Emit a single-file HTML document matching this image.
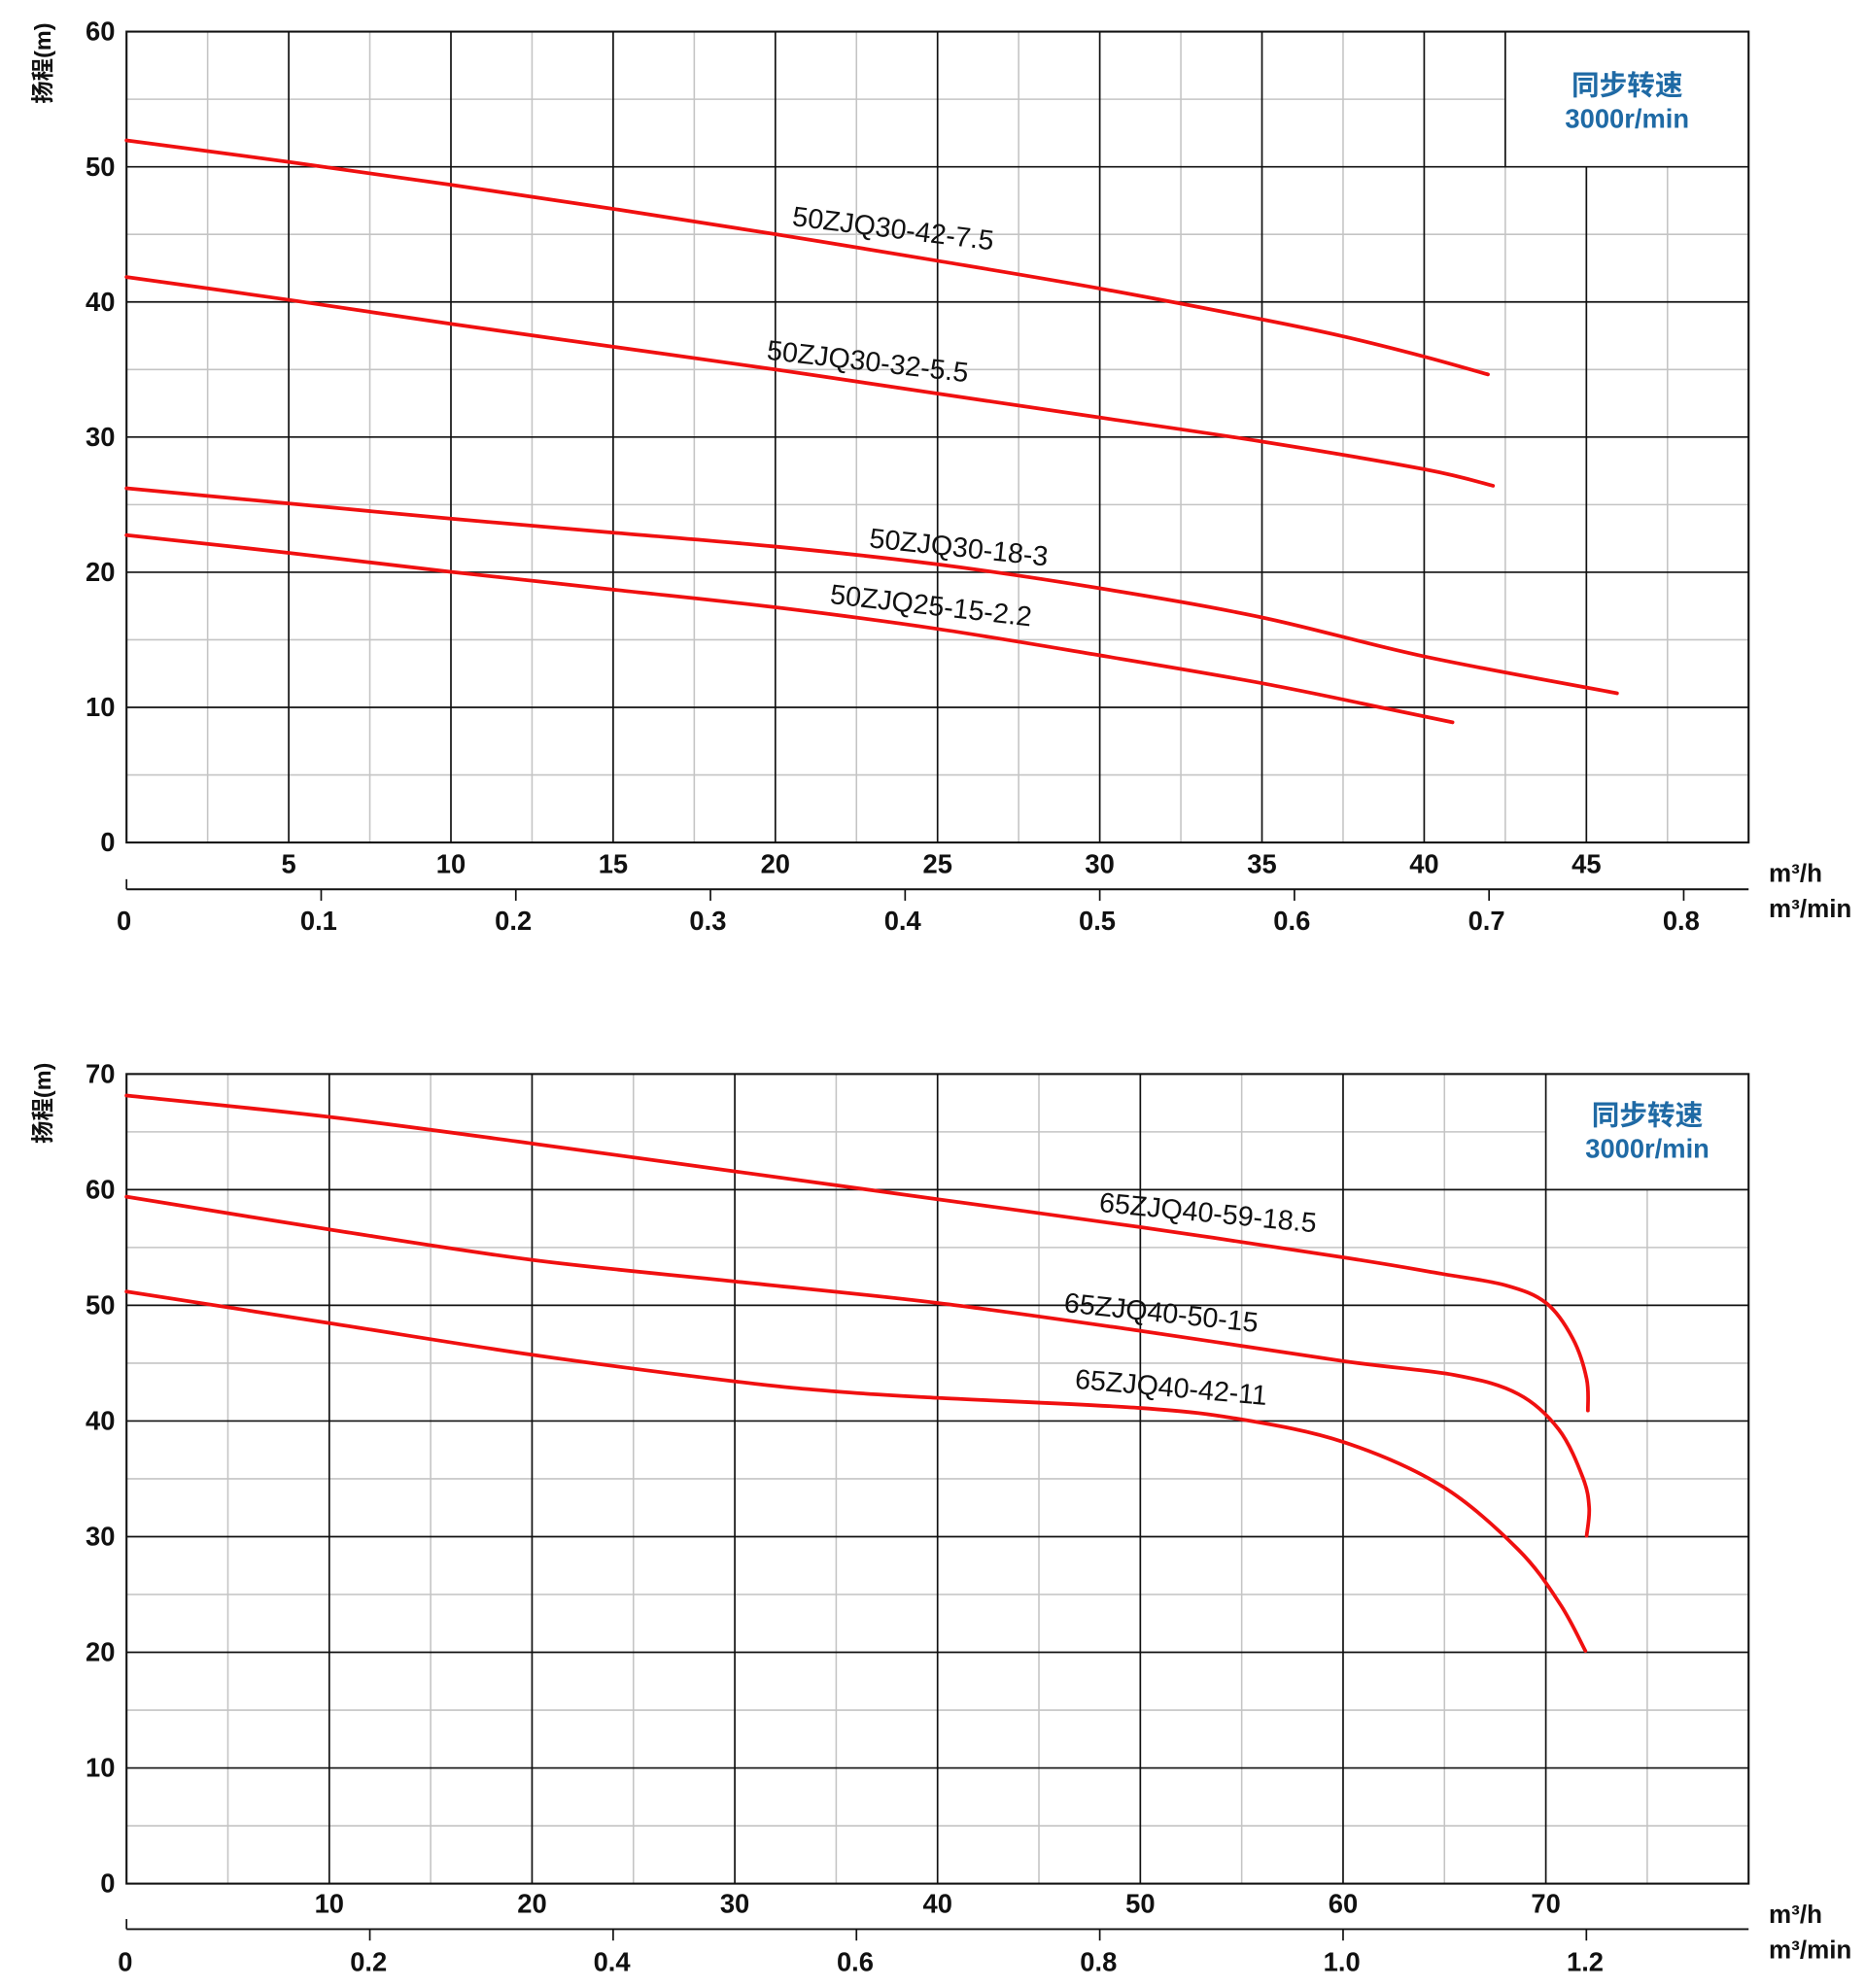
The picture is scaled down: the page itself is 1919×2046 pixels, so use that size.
<!DOCTYPE html>
<html><head><meta charset="utf-8">
<style>
html,body{margin:0;padding:0;background:#fff;}
svg{display:block;}
text{font-family:"Liberation Sans","Noto Sans CJK SC",sans-serif;}
</style></head>
<body>
<svg id="s" xmlns="http://www.w3.org/2000/svg" width="1919" height="2046" viewBox="0 0 1474 1571.5" preserveAspectRatio="none">
<rect width="1474" height="1571.5" fill="#fff"/>
<g id="g"></g>
</svg>
<script>
var out='';
function L(x1,y1,x2,y2,c,w){out+='<line x1="'+x1+'" y1="'+y1+'" x2="'+x2+'" y2="'+y2+'" stroke="'+c+'" stroke-width="'+w+'"/>';}
function T(x,y,t,o){o=o||{};out+='<text x="'+x+'" y="'+y+'" font-size="'+(o.s||20)+'" text-anchor="'+(o.a||'middle')+'" fill="'+(o.c||'#111')+'"'+(o.b?' font-weight="bold"':'')+(o.r!==undefined?' transform="rotate('+o.r+' '+x+' '+y+')"':'')+'>'+t+'</text>';}
function P(pts){var d='M'+pts[0][0]+','+pts[0][1];
 for(var i=0;i<pts.length-1;i++){var p0=pts[Math.max(i-1,0)],p1=pts[i],p2=pts[i+1],p3=pts[Math.min(i+2,pts.length-1)];
 d+=' C'+(p1[0]+(p2[0]-p0[0])/6)+','+(p1[1]+(p2[1]-p0[1])/6)+' '+(p2[0]-(p3[0]-p1[0])/6)+','+(p2[1]-(p3[1]-p1[1])/6)+' '+p2[0]+','+p2[1];}
 out+='<path d="'+d+'" fill="none" stroke="#f01010" stroke-width="2.9" stroke-linecap="round"/>';}
var G='#c4c4c4',K='#111';
(function(){
 var x0=100,x1=1382,y0=25,y1=666,dx=25.64,dy=10.683;
 for(var v=5;v<60;v+=10){var y=y1-v*dy;L(x0,y,v>50?1190:x1,y,G,1.2);}
 for(var q=2.5;q<50;q+=5){var x=x0+q*dx;
   if(q==42.5){L(x,y0,x,132,K,1.3);L(x,132,x,y1,G,1.2);} else if(q==47.5){L(x,132,x,y1,G,1.2);} else L(x,y0,x,y1,G,1.2);}
 for(var v=10;v<60;v+=10){var y=y1-v*dy;L(x0,y,x1,y,K,1.3);}
 for(var q=5;q<50;q+=5){var x=x0+q*dx; if(q==45)L(x,132,x,y1,K,1.3); else L(x,y0,x,y1,K,1.3);}
 out+='<rect x="'+x0+'" y="'+y0+'" width="'+(x1-x0)+'" height="'+(y1-y0)+'" fill="none" stroke="'+K+'" stroke-width="1.6"/>';
 for(var v=0;v<=60;v+=10)T(91,y1-v*dy+7,v,{a:'end',s:21,b:true});
 for(var q=5;q<=45;q+=5)T(x0+q*dx,690,q,{s:21,b:true});
 L(x0,703,x1,703,K,1.5);L(x0,695,x0,703,K,1.3);
 var m=['0','0.1','0.2','0.3','0.4','0.5','0.6','0.7','0.8'];
 for(var i=1;i<m.length;i++){var x=x0+i*6*dx;L(x,703,x,712,K,1.3);}
 for(var i=0;i<m.length;i++)T(x0-2+i*6*dx,735,m[i],{s:21,b:true});
 T(1398,697,'m³/h',{a:'start',s:20,b:true});T(1398,725,'m³/min',{a:'start',s:20,b:true});
 T(40,50,'扬程(m)',{s:18,r:-90,b:true});
 T(1286,75,'同步转速',{s:22,c:'#1f6aa5',b:true});T(1286,101,'3000r/min',{s:21,c:'#1f6aa5',b:true});
 P([[100,111],[228,128],[356,146],[484,165],[612,185],[740,206],[869,228],[1000,253],[1062,266],[1126,282],[1176,296]]);
 P([[100,219],[228,237],[356,256],[484,274],[612,292],[740,311],[869,330],[997,349],[1126,371],[1180,384]]);
 P([[100,386],[228,398],[356,410],[484,421],[612,432],[740,446],[869,465],[997,488],[1126,519],[1278,548]]);
 P([[100,423],[228,437],[356,452],[484,466],[612,480],[740,497],[869,518],[997,540],[1100,561],[1148,571]]);
 T(705,188,'50ZJQ30-42-7.5',{s:22,r:7});
 T(685,293,'50ZJQ30-32-5.5',{s:22,r:6.5});
 T(757,440,'50ZJQ30-18-3',{s:22,r:6});
 T(735,486,'50ZJQ25-15-2.2',{s:22,r:6.5});
})();
(function(){
 var x0=100,x1=1382,y0=849,y1=1489,dx=16.025,dy=9.143;
 for(var v=5;v<70;v+=10){var y=y1-v*dy;L(x0,y,v>60?1222:x1,y,G,1.2);}
 for(var q=5;q<80;q+=10){var x=x0+q*dx; if(q==75)L(x,940,x,y1,G,1.2); else L(x,y0,x,y1,G,1.2);}
 for(var v=10;v<70;v+=10){var y=y1-v*dy;L(x0,y,x1,y,K,1.3);}
 for(var q=10;q<80;q+=10){var x=x0+q*dx;L(x,y0,x,y1,K,1.3);}
 out+='<rect x="'+x0+'" y="'+y0+'" width="'+(x1-x0)+'" height="'+(y1-y0)+'" fill="none" stroke="'+K+'" stroke-width="1.6"/>';
 for(var v=0;v<=70;v+=10)T(91,y1-v*dy+7,v,{a:'end',s:21,b:true});
 for(var q=10;q<=70;q+=10)T(x0+q*dx,1512,q,{s:21,b:true});
 L(x0,1525,x1,1525,K,1.5);L(x0,1517,x0,1525,K,1.3);
 var m=['0','0.2','0.4','0.6','0.8','1.0','1.2'];
 for(var i=1;i<m.length;i++){var x=x0+i*12*dx;L(x,1525,x,1534,K,1.3);}
 for(var i=0;i<m.length;i++)T(x0-1+i*12*dx,1558,m[i],{s:21,b:true});
 T(1398,1520,'m³/h',{a:'start',s:20,b:true});T(1398,1548,'m³/min',{a:'start',s:20,b:true});
 T(40,872,'扬程(m)',{s:18,r:-90,b:true});
 T(1302,889,'同步转速',{s:22,c:'#1f6aa5',b:true});T(1302,915,'3000r/min',{s:21,c:'#1f6aa5',b:true});
 P([[100,866],[261,883],[421,904],[581,926],[741,948],[901,970],[1062,994],[1140,1007],[1190,1016],[1222,1030],[1243,1058],[1254,1090],[1255,1115]]);
 P([[100,946],[261,972],[421,996],[581,1013],[741,1030],[901,1052],[1062,1076],[1150,1087],[1200,1102],[1232,1130],[1251,1168],[1256,1192],[1254,1214]]);
 P([[100,1021],[261,1046],[421,1071],[581,1092],[661,1100],[741,1105],[901,1113],[981,1122],[1062,1140],[1140,1175],[1200,1225],[1233,1268],[1253,1305]]);
 T(954,966,'65ZJQ40-59-18.5',{s:22,r:5.5});
 T(917,1045,'65ZJQ40-50-15',{s:22,r:6});
 T(925,1104,'65ZJQ40-42-11',{s:22,r:5});
})();
document.getElementById('g').innerHTML=out;
</script>
</body></html>
